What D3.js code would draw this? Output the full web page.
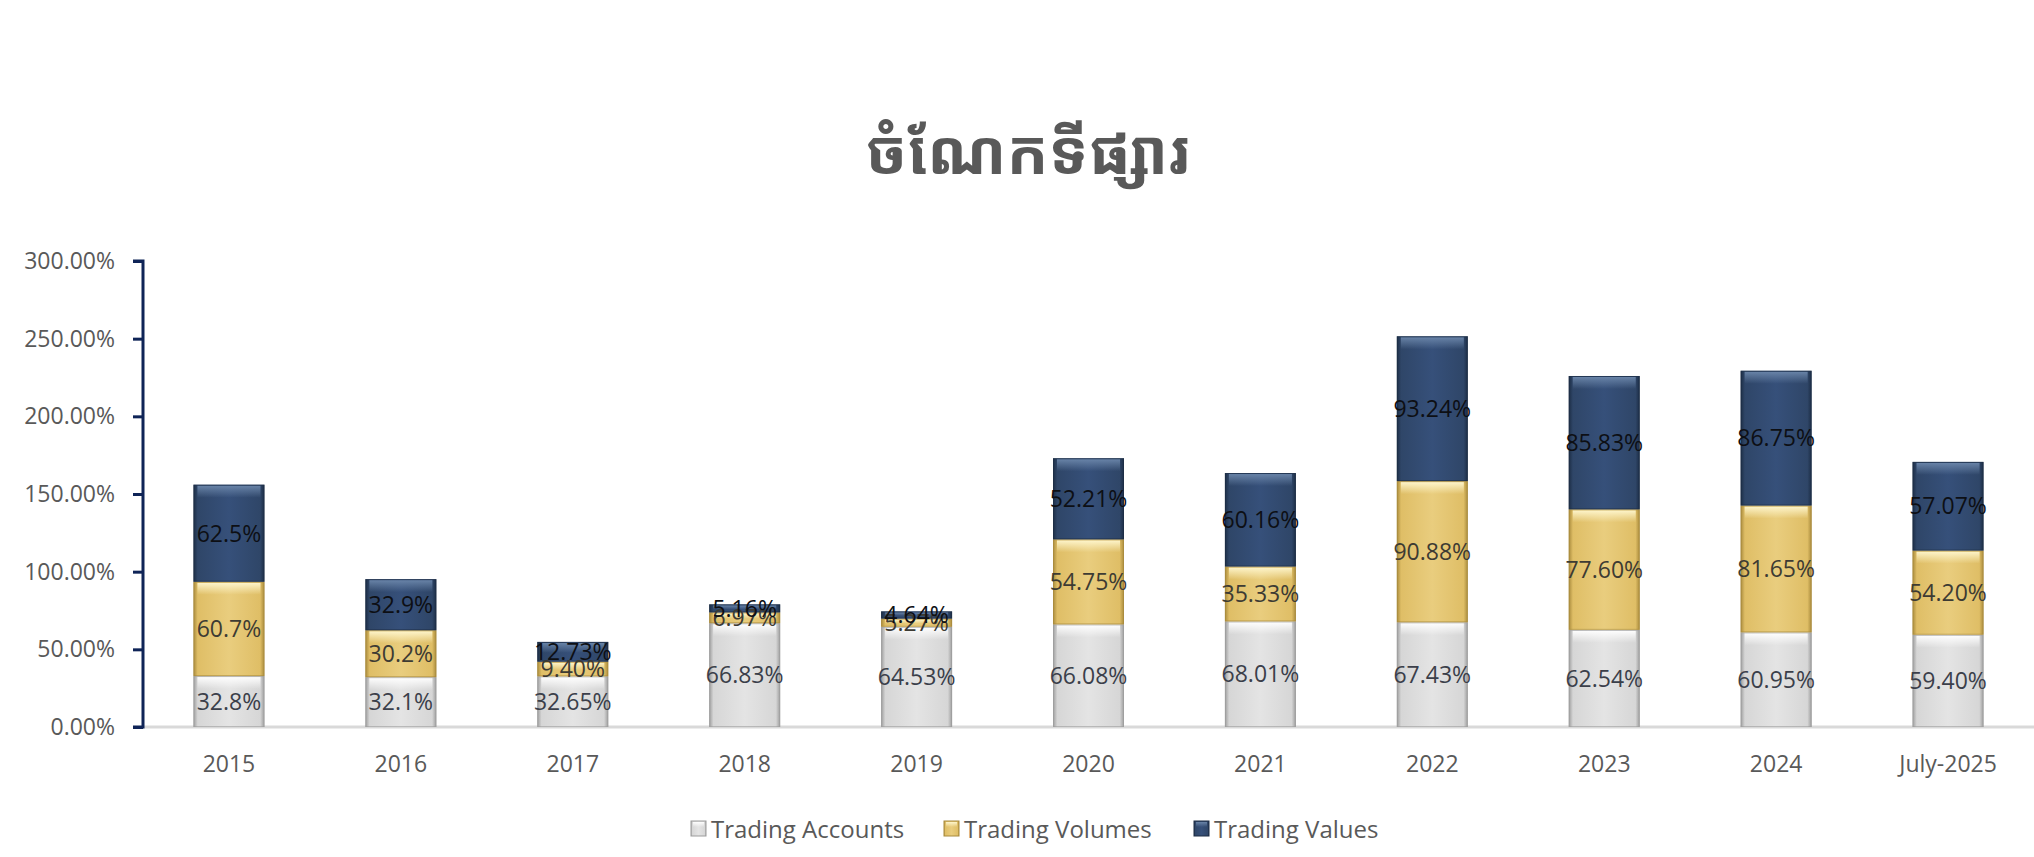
<!DOCTYPE html>
<html>
<head>
<meta charset="utf-8">
<script src="https://cdn.jsdelivr.net/npm/d3@7/dist/d3.min.js"></script>
<style>
  html, body { margin: 0; padding: 0; background: #ffffff; }
  svg { display: block; }
</style>
</head>
<body>
<svg id="chart" width="2034" height="857"></svg>
<script>
// ---- data ----
const titleText = "ចំណែកទីផ្សារ";
const categories = ["2015", "2016", "2017", "2018", "2019", "2020", "2021", "2022", "2023", "2024", "July-2025"];
const seriesNames = ["Trading Accounts", "Trading Volumes", "Trading Values"];
const tradingAccounts = [32.8, 32.1, 32.65, 66.83, 64.53, 66.08, 68.01, 67.43, 62.54, 60.95, 59.40];
const tradingVolumes  = [60.7, 30.2, 9.40, 6.97, 5.27, 54.75, 35.33, 90.88, 77.60, 81.65, 54.20];
const tradingValues   = [62.5, 32.9, 12.73, 5.16, 4.64, 52.21, 60.16, 93.24, 85.83, 86.75, 57.07];
const labelDecimals   = [1, 1, 2, 2, 2, 2, 2, 2, 2, 2, 2];
const yTicks = [0, 50, 100, 150, 200, 250, 300];

// ---- setup ----
const svg = d3.select("#chart");
const plot = { left: 143, right: 2034, top: 261, bottom: 727 };

const x = d3.scaleBand().domain(categories)
  .range([plot.left, plot.right])
  .paddingInner(0.587).paddingOuter(0.2935);
const y = d3.scaleLinear().domain([0, 300]).range([plot.bottom, plot.top]);

const rows = categories.map((c, i) => ({
  cat: c, dec: labelDecimals[i],
  "Trading Accounts": tradingAccounts[i],
  "Trading Volumes": tradingVolumes[i],
  "Trading Values": tradingValues[i]
}));
const stacked = d3.stack().keys(seriesNames)(rows);

const styles = {
  "Trading Accounts": { edge: "#9c9c9c", mid: "#e4e4e4", mid2: "#d6d6d6", hi: "#ffffff", label: "#3b3f4a", key: "acc" },
  "Trading Volumes":  { edge: "#a88a3c", mid: "#e9cd7e", mid2: "#dfbe66", hi: "#fff7cf", label: "#3d3b33", key: "vol" },
  "Trading Values":   { edge: "#1c2d45", mid: "#36507a", mid2: "#2f4668", hi: "#6b86aa", label: "#0d0f14", key: "val" }
};

// ---- gradients ----
const defs = svg.append("defs");
seriesNames.forEach(name => {
  const s = styles[name];
  const hg = defs.append("linearGradient").attr("id", "h-" + s.key)
    .attr("x1", "0").attr("x2", "1").attr("y1", "0").attr("y2", "0");
  [[0, s.edge], [0.06, s.mid2], [0.5, s.mid], [0.94, s.mid2], [1, s.edge]]
    .forEach(([o, c]) => hg.append("stop").attr("offset", o).attr("stop-color", c));
  const vg = defs.append("linearGradient").attr("id", "v-" + s.key)
    .attr("x1", "0").attr("x2", "0").attr("y1", "0").attr("y2", "1");
  vg.append("stop").attr("offset", 0).attr("stop-color", s.hi).attr("stop-opacity", 0.95);
  vg.append("stop").attr("offset", 1).attr("stop-color", s.hi).attr("stop-opacity", 0);
});

// ---- title ----
svg.append("text")
  .attr("x", 1028).attr("y", 174)
  .attr("text-anchor", "middle")
  .style("font-family", "'Noto Sans Khmer', 'Khmer OS', 'Khmer OS System', 'Noto Sans', sans-serif")
  .style("font-weight", "bold")
  .style("font-size", "62px")
  .style("fill", "#595959")
  .text(titleText);

// ---- x baseline ----
svg.append("line")
  .attr("x1", plot.left).attr("x2", plot.right)
  .attr("y1", y(0)).attr("y2", y(0))
  .attr("stroke", "#d9d9d9").attr("stroke-width", 3);

// ---- bars ----
const bw = x.bandwidth();
stacked.forEach(layer => {
  const s = styles[layer.key];
  const g = svg.append("g").attr("class", "series-" + s.key);
  layer.forEach((d, i) => {
    const x0 = x(categories[i]);
    const yTop = y(d[1]), yBot = y(d[0]);
    const h = yBot - yTop;
    g.append("rect")
      .attr("x", x0).attr("y", yTop).attr("width", bw).attr("height", h)
      .attr("fill", "url(#h-" + s.key + ")");
    const hh = Math.min(12, h * 0.5);
    g.append("rect")
      .attr("x", x0 + 4).attr("y", yTop + 1).attr("width", bw - 8).attr("height", hh)
      .attr("fill", "url(#v-" + s.key + ")");
    g.append("rect")
      .attr("x", x0 + 0.5).attr("y", yTop + 0.5).attr("width", bw - 1).attr("height", Math.max(0, h - 1))
      .attr("fill", "none").attr("stroke", s.edge).attr("stroke-opacity", 0.6).attr("stroke-width", 1);
  });
});

// ---- data labels ----
stacked.forEach(layer => {
  const s = styles[layer.key];
  svg.append("g").selectAll("text").data(layer).join("text")
    .attr("x", (d, i) => x(categories[i]) + bw / 2)
    .attr("y", d => (y(d[0]) + y(d[1])) / 2)
    .attr("dy", "0.36em")
    .attr("text-anchor", "middle")
    .style("font-family", "'Open Sans', sans-serif")
    .style("font-size", "23px")
    .style("fill", s.label)
    .text((d, i) => (d[1] - d[0]).toFixed(rows[i].dec) + "%");
});

// ---- y axis ----
const yAxis = d3.axisLeft(y).tickValues(yTicks)
  .tickFormat(v => (v).toFixed(2) + "%")
  .tickSize(10).tickPadding(18);
const ya = svg.append("g").attr("transform", `translate(${plot.left},0)`).call(yAxis);
ya.select(".domain").attr("stroke", "#0f2457").attr("stroke-width", 3)
  .attr("d", `M-10,${plot.top}H0V${plot.bottom}H-10`);
ya.selectAll(".tick line").attr("stroke", "#0f2457").attr("stroke-width", 3);
ya.selectAll(".tick text")
  .style("font-family", "'Open Sans', sans-serif")
  .style("font-size", "23px")
  .style("fill", "#595959");

// ---- x axis labels ----
const xAxis = d3.axisBottom(x).tickSize(0).tickPadding(29);
const xa = svg.append("g").attr("transform", `translate(0,${plot.bottom})`).call(xAxis);
xa.select(".domain").remove();
xa.selectAll(".tick text")
  .style("font-family", "'Open Sans', sans-serif")
  .style("font-size", "23px")
  .style("fill", "#595959");

// ---- legend ----
const legendX = [691, 944, 1194];
const lg = svg.append("g");
seriesNames.forEach((name, i) => {
  const s = styles[name];
  const gx = legendX[i], gy = 829;
  lg.append("rect").attr("x", gx).attr("y", gy - 8).attr("width", 15).attr("height", 15)
    .attr("fill", "url(#h-" + s.key + ")").attr("stroke", s.edge).attr("stroke-width", 1);
  lg.append("rect").attr("x", gx + 2).attr("y", gy - 7).attr("width", 11).attr("height", 5)
    .attr("fill", "url(#v-" + s.key + ")");
  lg.append("text").attr("x", gx + 20).attr("y", gy).attr("dy", "0.36em")
    .style("font-family", "'Open Sans', sans-serif")
    .style("font-size", "24px")
    .style("fill", "#595959")
    .text(name);
});
</script>
</body>
</html>
